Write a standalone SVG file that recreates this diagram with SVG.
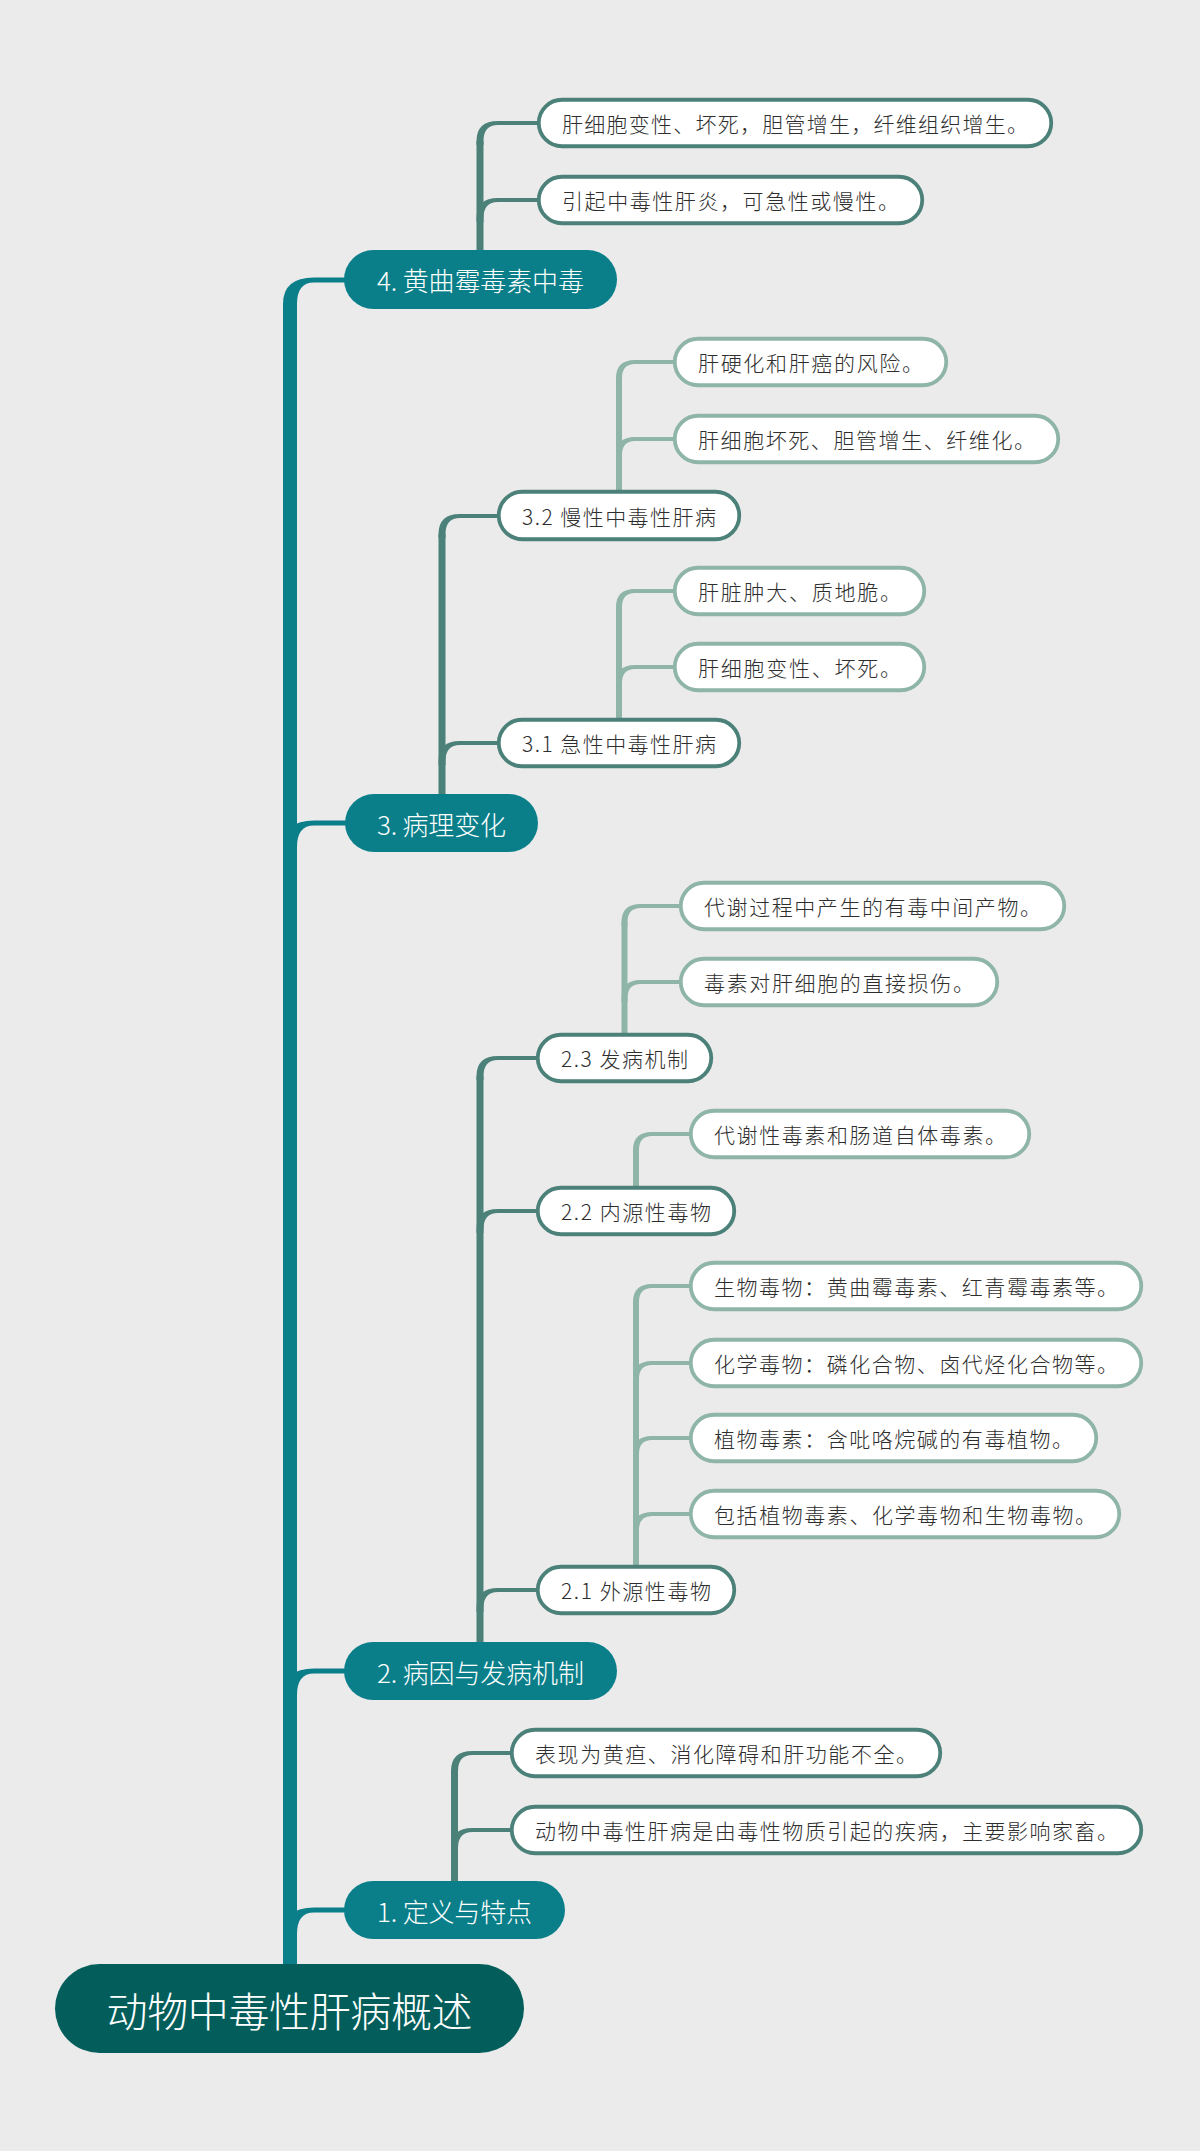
<svg xmlns="http://www.w3.org/2000/svg" width="1200" height="2151" viewBox="0 0 1200 2151">
<style>
.bg{fill:#ebebeb}
.root rect{fill:#035e5b}
.root text{fill:#ffffff;font-size:41px}
.l1 rect{fill:#0a7f8a}
.l1 text{fill:#ffffff;font-size:26px}
.l2 rect{fill:#ffffff;stroke:#4b8179;stroke-width:3.8}
.lf rect{fill:#ffffff;stroke:#8fb5a9;stroke-width:3.8}
.l2 text,.lf text{fill:#2e2e2e;font-size:21px}
text{font-family:"Noto Sans CJK SC","Noto Sans",sans-serif;font-weight:300;text-anchor:middle;dominant-baseline:central}
.trunk{fill:#0a7f8a}
.dark{fill:#4b8179}
.light{fill:#8fb5a9}
</style>
<rect class="bg" x="0" y="0" width="1200" height="2151"/>
<g id="connectors">
  <rect class="trunk" x="283" y="304" width="14" height="1664"/>
  <path class="trunk" d="M283,308 L283,304 Q283,277.5 314,277.5 L346,277.5 L346,282.5 L314,282.5 Q297,282.5 297,304 L297,308 Z"/>
  <path class="trunk" d="M283,851 L283,847 Q283,820.5 314,820.5 L347,820.5 L347,825.5 L314,825.5 Q297,825.5 297,847 L297,851 Z"/>
  <path class="trunk" d="M283,1699 L283,1695 Q283,1668.5 314,1668.5 L346,1668.5 L346,1673.5 L314,1673.5 Q297,1673.5 297,1695 L297,1699 Z"/>
  <path class="trunk" d="M283,1938 L283,1934 Q283,1907.5 314,1907.5 L346,1907.5 L346,1912.5 L314,1912.5 Q297,1912.5 297,1934 L297,1938 Z"/>

  <rect class="dark" x="476.5" y="141" width="7" height="112"/>
  <path class="dark" d="M476.5,145 L476.5,141 Q476.5,121 498,121 L539,121 L539,125 L498,125 Q483.5,125 483.5,141 L483.5,145 Z"/>
  <path class="dark" d="M476.5,222 L476.5,218 Q476.5,198 498,198 L539,198 L539,202 L498,202 Q483.5,202 483.5,218 L483.5,222 Z"/>

  <rect class="dark" x="438.5" y="534" width="7" height="262"/>
  <path class="dark" d="M438.5,538 L438.5,534 Q438.5,514 460,514 L499,514 L499,518 L460,518 Q445.5,518 445.5,534 L445.5,538 Z"/>
  <path class="dark" d="M438.5,765 L438.5,761 Q438.5,741 460,741 L499,741 L499,745 L460,745 Q445.5,745 445.5,761 L445.5,765 Z"/>

  <rect class="light" x="616" y="378" width="6" height="114"/>
  <path class="light" d="M616,382 L616,378 Q616,360 635,360 L675,360 L675,364 L635,364 Q622,364 622,378 L622,382 Z"/>
  <path class="light" d="M616,459 L616,455 Q616,437 635,437 L675,437 L675,441 L635,441 Q622,441 622,455 L622,459 Z"/>

  <rect class="light" x="616" y="607" width="6" height="113"/>
  <path class="light" d="M616,611 L616,607 Q616,589 635,589 L675,589 L675,593 L635,593 Q622,593 622,607 L622,611 Z"/>
  <path class="light" d="M616,687 L616,683 Q616,665 635,665 L675,665 L675,669 L635,669 Q622,669 622,683 L622,687 Z"/>

  <rect class="dark" x="476.5" y="1076" width="7" height="568"/>
  <path class="dark" d="M476.5,1080 L476.5,1076 Q476.5,1056 498,1056 L538,1056 L538,1060 L498,1060 Q483.5,1060 483.5,1076 L483.5,1080 Z"/>
  <path class="dark" d="M476.5,1233 L476.5,1229 Q476.5,1209 498,1209 L538,1209 L538,1213 L498,1213 Q483.5,1213 483.5,1229 L483.5,1233 Z"/>
  <path class="dark" d="M476.5,1612 L476.5,1608 Q476.5,1588 498,1588 L538,1588 L538,1592 L498,1592 Q483.5,1592 483.5,1608 L483.5,1612 Z"/>

  <rect class="light" x="621.5" y="922" width="6" height="114"/>
  <path class="light" d="M621.5,926 L621.5,922 Q621.5,904 640.5,904 L681,904 L681,908 L640.5,908 Q627.5,908 627.5,922 L627.5,926 Z"/>
  <path class="light" d="M621.5,1002 L621.5,998 Q621.5,980 640.5,980 L681,980 L681,984 L640.5,984 Q627.5,984 627.5,998 L627.5,1002 Z"/>

  <rect class="light" x="633" y="1150" width="6" height="38"/>
  <path class="light" d="M633,1154 L633,1150 Q633,1132 652,1132 L691,1132 L691,1136 L652,1136 Q639,1136 639,1150 L639,1154 Z"/>

  <rect class="light" x="633" y="1302" width="6" height="266"/>
  <path class="light" d="M633,1306 L633,1302 Q633,1284 652,1284 L691,1284 L691,1288 L652,1288 Q639,1288 639,1302 L639,1306 Z"/>
  <path class="light" d="M633,1383 L633,1379 Q633,1361 652,1361 L691,1361 L691,1365 L652,1365 Q639,1365 639,1379 L639,1383 Z"/>
  <path class="light" d="M633,1458 L633,1454 Q633,1436 652,1436 L691,1436 L691,1440 L652,1440 Q639,1440 639,1454 L639,1458 Z"/>
  <path class="light" d="M633,1534 L633,1530 Q633,1512 652,1512 L691,1512 L691,1516 L652,1516 Q639,1516 639,1530 L639,1534 Z"/>

  <rect class="dark" x="451" y="1771" width="7" height="112"/>
  <path class="dark" d="M451,1775 L451,1771 Q451,1751 472.5,1751 L512,1751 L512,1755 L472.5,1755 Q458,1755 458,1771 L458,1775 Z"/>
  <path class="dark" d="M451,1852 L451,1848 Q451,1828 472.5,1828 L512,1828 L512,1832 L472.5,1832 Q458,1832 458,1848 L458,1852 Z"/>
</g>

<g id="root" class="root">
  <rect x="55" y="1964" width="469" height="89" rx="44.5"/>
  <text x="289.5" y="2008.5" textLength="366" lengthAdjust="spacing">动物中毒性肝病概述</text>
</g>

<g id="n4" class="l1">
  <rect x="344" y="250" width="273" height="59" rx="29.5"/>
  <text x="480.5" y="279.5" textLength="207" lengthAdjust="spacing">4. 黄曲霉毒素中毒</text>
</g>
<g id="n4a" class="l2">
  <rect x="538.75" y="99.75" width="512.5" height="46.5" rx="23.25"/>
  <text x="795" y="123" textLength="466" lengthAdjust="spacing">肝细胞变性、坏死，胆管增生，纤维组织增生。</text>
</g>
<g id="n4b" class="l2">
  <rect x="538.75" y="176.75" width="383.5" height="46.5" rx="23.25"/>
  <text x="730.5" y="200" textLength="337" lengthAdjust="spacing">引起中毒性肝炎，可急性或慢性。</text>
</g>

<g id="n3" class="l1">
  <rect x="345" y="794" width="193" height="58" rx="29"/>
  <text x="441.5" y="823" textLength="129" lengthAdjust="spacing">3. 病理变化</text>
</g>
<g id="n32" class="l2">
  <rect x="498.75" y="491.75" width="240.5" height="47.5" rx="23.75"/>
  <text x="619" y="515.5" textLength="194" lengthAdjust="spacing">3.2 慢性中毒性肝病</text>
</g>
<g id="n32a" class="lf">
  <rect x="674.75" y="338.75" width="271.5" height="46.5" rx="23.25"/>
  <text x="810.5" y="362" textLength="225" lengthAdjust="spacing">肝硬化和肝癌的风险。</text>
</g>
<g id="n32b" class="lf">
  <rect x="674.75" y="415.75" width="383.5" height="46.5" rx="23.25"/>
  <text x="866.5" y="439" textLength="337" lengthAdjust="spacing">肝细胞坏死、胆管增生、纤维化。</text>
</g>
<g id="n31" class="l2">
  <rect x="498.75" y="719.75" width="240.5" height="46.5" rx="23.25"/>
  <text x="619" y="743" textLength="194" lengthAdjust="spacing">3.1 急性中毒性肝病</text>
</g>
<g id="n31a" class="lf">
  <rect x="674.75" y="567.75" width="249.5" height="46.5" rx="23.25"/>
  <text x="799.5" y="591" textLength="203" lengthAdjust="spacing">肝脏肿大、质地脆。</text>
</g>
<g id="n31b" class="lf">
  <rect x="674.75" y="643.75" width="249.5" height="46.5" rx="23.25"/>
  <text x="799.5" y="667" textLength="203" lengthAdjust="spacing">肝细胞变性、坏死。</text>
</g>

<g id="n2" class="l1">
  <rect x="344" y="1642" width="273" height="58" rx="29"/>
  <text x="480.5" y="1671" textLength="207" lengthAdjust="spacing">2. 病因与发病机制</text>
</g>
<g id="n23" class="l2">
  <rect x="537.75" y="1034.75" width="173.5" height="46.5" rx="23.25"/>
  <text x="624.5" y="1058" textLength="127" lengthAdjust="spacing">2.3 发病机制</text>
</g>
<g id="n23a" class="lf">
  <rect x="680.75" y="882.75" width="383.5" height="46.5" rx="23.25"/>
  <text x="872.5" y="906" textLength="337" lengthAdjust="spacing">代谢过程中产生的有毒中间产物。</text>
</g>
<g id="n23b" class="lf">
  <rect x="680.75" y="958.75" width="316.5" height="46.5" rx="23.25"/>
  <text x="839" y="982" textLength="270" lengthAdjust="spacing">毒素对肝细胞的直接损伤。</text>
</g>
<g id="n22" class="l2">
  <rect x="537.75" y="1187.75" width="196.5" height="46.5" rx="23.25"/>
  <text x="636" y="1211" textLength="150" lengthAdjust="spacing">2.2 内源性毒物</text>
</g>
<g id="n22a" class="lf">
  <rect x="690.75" y="1110.75" width="338.5" height="46.5" rx="23.25"/>
  <text x="860" y="1134" textLength="292" lengthAdjust="spacing">代谢性毒素和肠道自体毒素。</text>
</g>
<g id="n21" class="l2">
  <rect x="537.75" y="1566.75" width="196.5" height="46.5" rx="23.25"/>
  <text x="636" y="1590" textLength="150" lengthAdjust="spacing">2.1 外源性毒物</text>
</g>
<g id="n21a" class="lf">
  <rect x="690.75" y="1262.75" width="450.5" height="46.5" rx="23.25"/>
  <text x="916" y="1286" textLength="404" lengthAdjust="spacing">生物毒物：黄曲霉毒素、红青霉毒素等。</text>
</g>
<g id="n21b" class="lf">
  <rect x="690.75" y="1339.75" width="450.5" height="46.5" rx="23.25"/>
  <text x="916" y="1363" textLength="404" lengthAdjust="spacing">化学毒物：磷化合物、卤代烃化合物等。</text>
</g>
<g id="n21c" class="lf">
  <rect x="690.75" y="1414.75" width="405.5" height="46.5" rx="23.25"/>
  <text x="893.5" y="1438" textLength="359" lengthAdjust="spacing">植物毒素：含吡咯烷碱的有毒植物。</text>
</g>
<g id="n21d" class="lf">
  <rect x="690.75" y="1490.75" width="428.5" height="46.5" rx="23.25"/>
  <text x="905" y="1514" textLength="382" lengthAdjust="spacing">包括植物毒素、化学毒物和生物毒物。</text>
</g>

<g id="n1" class="l1">
  <rect x="344" y="1881" width="221" height="58" rx="29"/>
  <text x="454.5" y="1910" textLength="155" lengthAdjust="spacing">1. 定义与特点</text>
</g>
<g id="n1a" class="l2">
  <rect x="511.75" y="1729.75" width="428.5" height="46.5" rx="23.25"/>
  <text x="726" y="1753" textLength="382" lengthAdjust="spacing">表现为黄疸、消化障碍和肝功能不全。</text>
</g>
<g id="n1b" class="l2">
  <rect x="511.75" y="1806.75" width="629.5" height="46.5" rx="23.25"/>
  <text x="826.5" y="1830" textLength="583" lengthAdjust="spacing">动物中毒性肝病是由毒性物质引起的疾病，主要影响家畜。</text>
</g>
</svg>
